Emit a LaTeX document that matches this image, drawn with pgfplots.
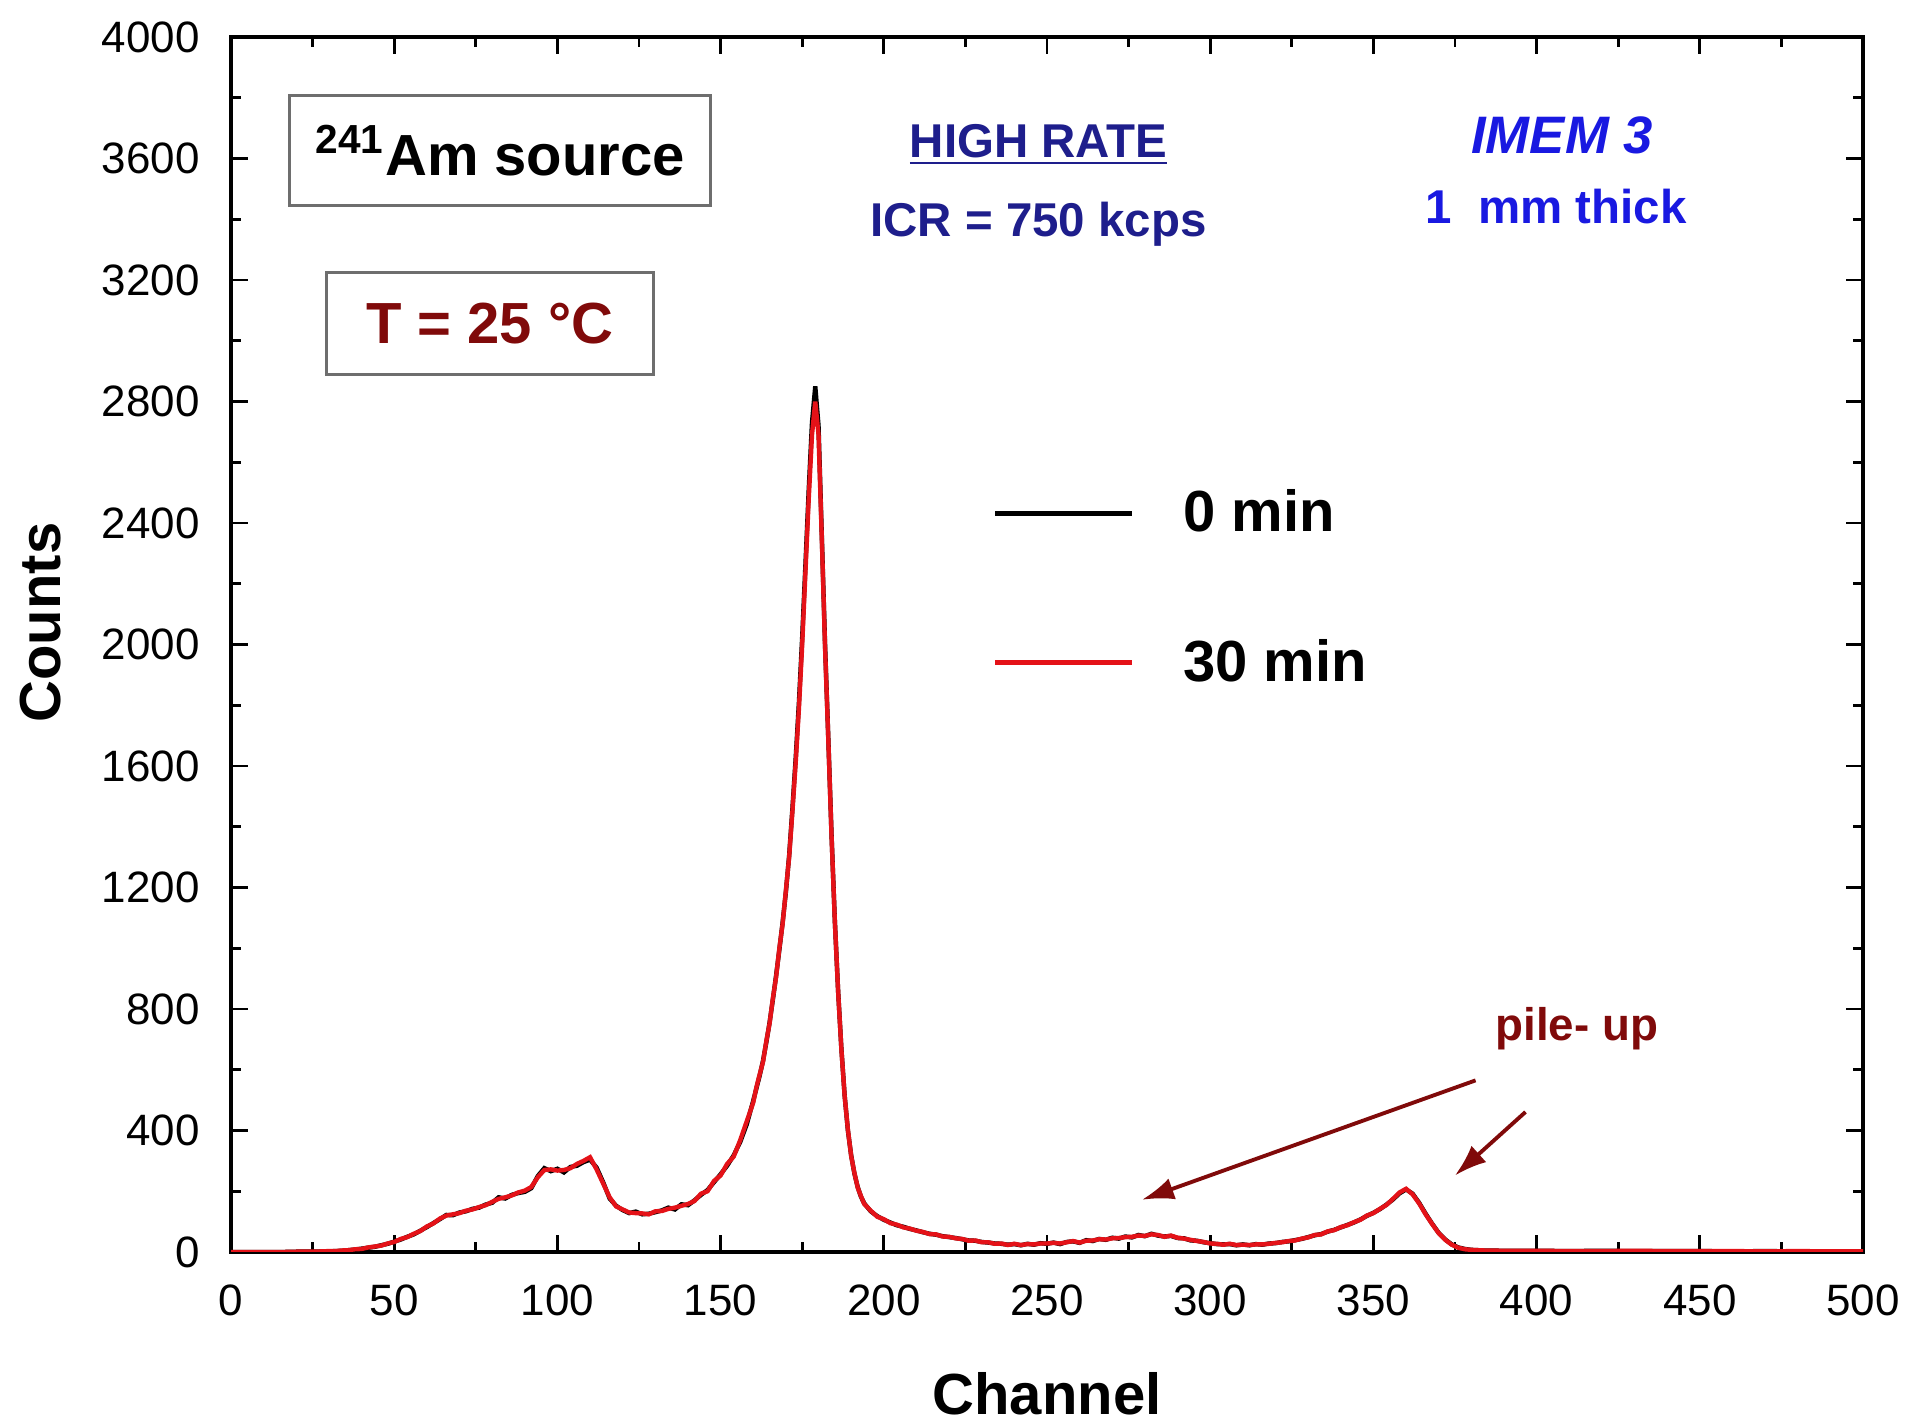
\documentclass[border=0pt]{standalone}
\usepackage{pgfplots}
\pgfplotsset{compat=1.18}
\usepackage{fontspec}
\setmainfont{Liberation Sans}
\usetikzlibrary{arrows.meta}
\definecolor{myred}{RGB}{228,18,24}
\definecolor{darkred}{RGB}{128,10,10}
\definecolor{navy}{RGB}{30,30,140}
\definecolor{brightblue}{RGB}{25,25,225}
\definecolor{boxgray}{RGB}{110,110,110}
\pgfplotstableread{
x y
0 0
4 0
8 0
12 0
16 0
20 1
24 1
28 2
30 2
32 3
34 4
36 6
38 8
40 11
42 14
44 17
46 22
48 27
50 34
52 41
54 50
56 58
58 70
60 82
62 95
64 108
66 122
68 121
70 130
72 134
74 142
76 146
78 156
80 162
82 180
84 176
86 188
88 194
90 198
92 210
94 250
96 276
98 266
100 274
102 262
104 280
106 284
108 296
110 304
112 278
114 230
116 176
118 152
120 138
122 128
124 133
126 124
128 126
130 131
132 137
134 146
136 140
138 157
140 154
142 170
144 188
146 204
148 230
150 256
152 284
154 318
156 362
158 420
160 498
161 540
162 582
163 630
164 690
165 755
166 830
167 910
168 995
169 1085
170 1185
171 1305
172 1460
173 1625
174 1810
175 2025
176 2265
177 2510
178 2730
179 2850
180 2720
181 2360
182 2000
183 1690
184 1370
185 1090
186 860
187 670
188 515
189 400
190 318
191 258
192 214
193 182
194 160
196 134
198 118
200 106
202 97
204 88
206 83
208 76
210 71
212 65
214 60
216 57
218 52
220 49
222 46
224 42
226 38
228 37
230 33
232 31
234 28
236 27
238 24
240 26
242 22
244 27
246 24
248 29
250 27
252 31
254 26
256 33
258 35
260 30
262 39
264 36
266 43
268 40
270 47
272 44
274 51
276 48
278 56
280 52
282 60
284 54
286 51
288 53
290 46
292 45
294 38
296 37
298 32
300 29
302 26
304 25
306 26
308 22
310 25
312 22
314 26
316 24
318 28
320 29
322 33
324 35
326 39
328 43
330 49
332 55
334 59
336 67
338 73
340 81
342 89
344 97
346 107
348 119
350 129
352 141
354 156
356 173
358 193
360 206
362 192
364 162
366 126
368 93
370 63
372 41
374 25
376 15
378 10
380 7
384 5
390 4
400 4
410 3
420 4
430 3
440 3
450 3
460 2
470 3
480 2
490 2
500 2
}\datablack
\pgfplotstableread{
x y
0 0
4 0
8 0
12 0
16 0
20 1
24 1
28 2
30 3
32 3
34 5
36 6
38 9
40 10
42 15
44 18
46 21
48 28
50 33
52 43
54 49
56 60
58 69
60 84
62 94
64 110
66 120
68 124
70 128
72 136
74 140
76 148
78 154
80 165
82 175
84 180
86 186
88 196
90 202
92 214
94 246
96 270
98 272
100 268
102 270
104 276
106 290
108 300
110 312
112 272
114 226
116 180
118 150
120 140
122 130
124 128
126 127
128 124
130 134
132 135
134 142
136 146
138 152
140 158
142 168
144 192
146 200
148 234
150 252
152 290
154 314
156 368
158 430
160 492
161 544
162 586
163 626
164 694
165 752
166 834
167 905
168 1000
169 1080
170 1190
171 1300
172 1450
173 1610
174 1790
175 2000
176 2240
177 2480
178 2690
179 2800
180 2690
181 2350
182 1990
183 1685
184 1365
185 1088
186 858
187 668
188 514
189 402
190 316
191 260
192 212
193 184
194 158
196 136
198 116
200 108
202 95
204 90
206 81
208 77
210 70
212 66
214 59
216 58
218 51
220 50
222 45
224 43
226 37
228 38
230 32
232 32
234 27
236 28
238 23
240 27
242 23
244 26
246 25
248 28
250 28
252 30
254 28
256 32
258 36
260 31
262 37
264 38
266 42
268 41
270 45
272 46
274 49
276 50
278 54
280 53
282 58
284 56
286 50
288 54
290 47
292 44
294 40
296 36
298 33
300 28
302 27
304 24
306 27
308 23
310 24
312 23
314 25
316 25
318 27
320 30
322 32
324 36
326 38
328 44
330 48
332 56
334 58
336 68
338 72
340 82
342 88
344 98
346 106
348 120
350 128
352 142
354 155
356 175
358 196
360 208
362 190
364 160
366 124
368 92
370 62
372 40
374 24
376 14
378 9
380 7
384 5
390 4
400 4
410 3
420 3
430 4
440 3
450 3
460 3
470 2
480 3
490 2
500 2
}\datared
\begin{document}
\begin{tikzpicture}
\useasboundingbox (-2.31,-1.72) rectangle (16.78,12.52);
\begin{axis}[
  scale only axis,
  width=16.32cm, height=12.15cm,
  xmin=0, xmax=500, ymin=0, ymax=4000,
  xtick={0,50,...,500}, ytick={0,400,...,4000},
  minor x tick num=1, minor y tick num=1,
  tick align=inside,
  major tick length=0.17cm, minor tick length=0.1cm,
  every tick/.style={black, line width=0.8pt},
  axis line style={black, line width=1pt},
  /pgf/number format/.cd, set thousands separator={}, assume math mode=true,
  /pgfplots/.cd,
  ticklabel style={font=\fontsize{12.5}{14}\selectfont},
  yticklabel style={xshift=-0.19cm},
  xticklabel style={yshift=-0.2cm},
  xlabel={\bfseries Channel},
  ylabel={\bfseries Counts},
  label style={font=\fontsize{16.5}{19}\selectfont},
  xlabel style={at={(axis description cs:0.5,-0.117)}, anchor=center},
  ylabel style={at={(axis description cs:-0.117,0.518)}, anchor=center, rotate=0},
  legend style={at={(axis cs:233.2,2186)}, anchor=west, draw=none, fill=none,
    font=\fontsize{16.5}{19}\selectfont\bfseries, row sep=0.88cm, inner sep=0pt,
    nodes={inner xsep=0.49cm}},
  legend cell align=left,
  legend image code/.code={\draw[#1] (0cm,0cm) -- (1.37cm,0cm);},
]
\addplot[black, line width=1.25pt] table[x=x,y=y] {\datablack};
\addlegendentry{0 min}
\addplot[myred, line width=1.25pt] table[x=x,y=y] {\datared};
\addlegendentry{30 min}

\node[draw=boxgray, line width=0.8pt, minimum width=4.21cm, minimum height=1.10cm,
  font=\fontsize{16.5}{19}\selectfont\bfseries] at (axis cs:82.5,3627) {\textsuperscript{241}Am source};
\node[draw=boxgray, line width=0.8pt, minimum width=3.27cm, minimum height=1.02cm,
  text=darkred, font=\fontsize{16.5}{19}\selectfont\bfseries] at (axis cs:79.3,3058) {T = 25 °C};
\node[text=navy, font=\fontsize{13.5}{16}\selectfont\bfseries] at (axis cs:247.4,3645) {\underline{HIGH RATE}};
\node[text=navy, font=\fontsize{13.5}{16}\selectfont\bfseries] at (axis cs:247.4,3384) {ICR = 750 kcps};
\node[text=brightblue, font=\fontsize{15}{18}\selectfont\bfseries\itshape] at (axis cs:407.8,3675) {IMEM 3};
\node[text=brightblue, font=\fontsize{13.5}{16}\selectfont\bfseries] at (axis cs:406,3443) {1\ \ mm thick};
\node[text=darkred, font=\fontsize{13}{16}\selectfont\bfseries] at (axis cs:412.3,735) {pile- up};
\draw[darkred, line width=1.1pt, -{Latex[length=3.2mm,width=2.2mm]}] (axis cs:381.3,565) -- (axis cs:279.1,172);
\draw[darkred, line width=1.1pt, -{Latex[length=3.2mm,width=2.2mm]}] (axis cs:396.6,461) -- (axis cs:375,252);
\end{axis}
\end{tikzpicture}
\end{document}
